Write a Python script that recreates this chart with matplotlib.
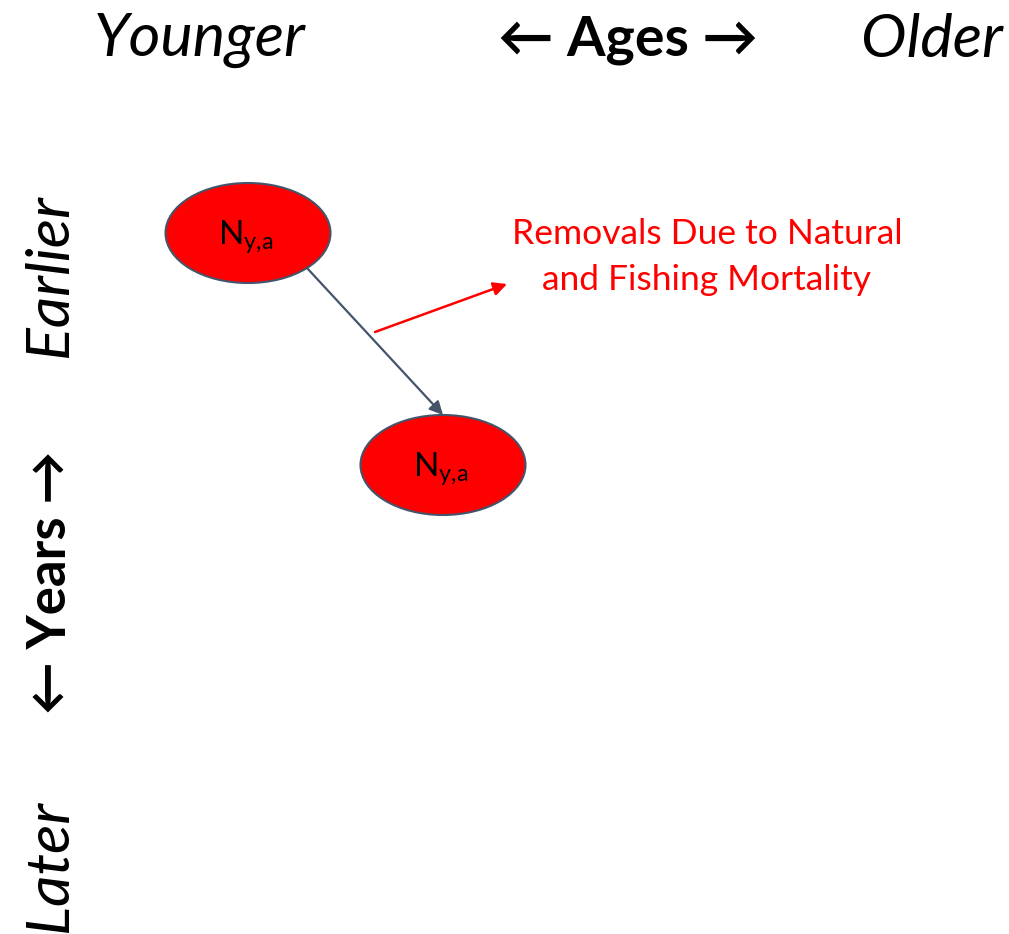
import matplotlib
matplotlib.use('Agg')
import matplotlib.pyplot as plt
from matplotlib.patches import Ellipse, FancyArrowPatch

# ---- data ----
AGE_LABELS = ['Younger', '\u2190 Ages \u2192', 'Older']
AGE_X = [200, 628, 932]
YEAR_LABELS = ['Earlier', '\u2190 Years \u2192', 'Later']
YEAR_Y = [276, 582, 866]
NODE_X = [248, 443]
NODE_Y = [233, 465]
NODE_LABEL = r'N$_{\mathregular{y{,}a}}$'
REMOVAL_TEXT = 'Removals Due to Natural\nand Fishing Mortality'

# ---- style ----
FAMILY = ['Lato', 'DejaVu Sans']
plt.rcParams['font.family'] = FAMILY
plt.rcParams['mathtext.fontset'] = 'custom'
plt.rcParams['mathtext.rm'] = 'Lato'
RED = '#FF0000'
SLATE = '#44546A'

W, H = 1009, 934
fig = plt.figure(figsize=(W / 100, H / 100), dpi=100, facecolor='white')
ax = fig.add_axes([0, 0, 1, 1])
ax.set_xlim(0, W)
ax.set_ylim(H, 0)
ax.axis('off')

# column / row headers
for i, (lab, x) in enumerate(zip(AGE_LABELS, AGE_X)):
    ax.text(x, 40, lab, ha='center', va='center',
            fontsize=40 if i == 1 else 44,
            style='normal' if i == 1 else 'italic',
            fontweight='bold' if i == 1 else 'normal')
for i, (lab, y) in enumerate(zip(YEAR_LABELS, YEAR_Y)):
    ax.text(50, y, lab, ha='center', va='center', rotation=90,
            fontsize=38 if i == 1 else 44,
            style='normal' if i == 1 else 'italic',
            fontweight='bold' if i == 1 else 'normal')

# nodes
for x, y in zip(NODE_X, NODE_Y):
    ax.add_patch(Ellipse((x, y), 165, 100, facecolor=RED, edgecolor=SLATE,
                         linewidth=1.5, zorder=3))
    ax.text(x - 2, y + 4, NODE_LABEL, ha='center', va='center', fontsize=24, zorder=4)

# survival arrow
ax.add_patch(FancyArrowPatch((307, 268), (443, 415), arrowstyle='-|>',
                             mutation_scale=20, color=SLATE, linewidth=1.6,
                             shrinkA=0, shrinkB=0, zorder=2))

# removal arrow
ax.add_patch(FancyArrowPatch((375, 332), (507, 284), arrowstyle='-|>',
                             mutation_scale=20, color=RED, linewidth=1.8,
                             shrinkA=0, shrinkB=0, zorder=2))
ax.text(707, 257, REMOVAL_TEXT, ha='center', va='center', fontsize=25.5,
        color=RED, linespacing=1.55)

fig.savefig('out.png', dpi=100, facecolor='white')
